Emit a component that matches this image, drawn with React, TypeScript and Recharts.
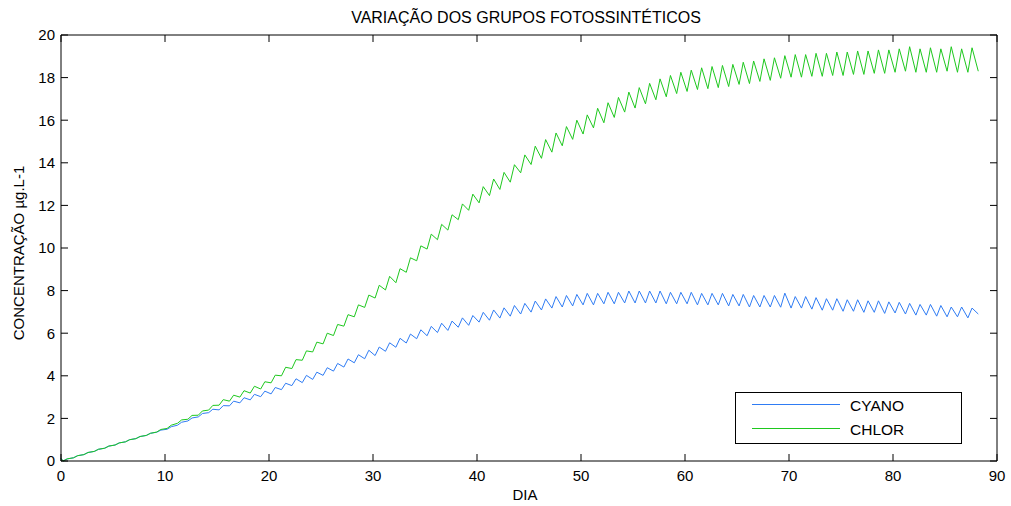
import React from 'react';
import { LineChart, Line, XAxis, YAxis, ReferenceLine } from 'recharts';

const TITLE = 'VARIAÇÃO DOS GRUPOS FOTOSSINTÉTICOS';
const X_LABEL = 'DIA';
const Y_LABEL = 'CONCENTRAÇÃO µg.L-1';
const SERIES_NAMES = ['CYANO', 'CHLOR'];
const SERIES_COLORS = ['#2f7cf4', '#1ec81e'];

const X_TICKS = [0, 10, 20, 30, 40, 50, 60, 70, 80, 90];
const Y_TICKS = [0, 2, 4, 6, 8, 10, 12, 14, 16, 18, 20];
const X_MAX = 90;
const Y_MAX = 20;

// time of the daily minimum / maximum inside each day
const TROUGH_PHASE = 0.2;
const PEAK_PHASE = 0.6;
const START_VALUES = [0.12, 0.12];

// daily minima (day 0..88) and maxima (day 0..87)
const CHLOR_LOW = [
  0.0, 0.15, 0.3, 0.45, 0.6, 0.75, 0.9, 1.05, 1.2, 1.36,
  1.53, 1.77, 1.96, 2.15, 2.39, 2.62, 2.81, 3.0, 3.19, 3.38,
  3.67, 4.0, 4.34, 4.73, 5.12, 5.5, 5.89, 6.33, 6.77, 7.21,
  7.65, 8.03, 8.37, 8.86, 9.4, 9.95, 10.39, 10.84, 11.33, 11.77,
  12.12, 12.46, 12.75, 13.09, 13.53, 13.92, 14.21, 14.5, 14.8, 15.1,
  15.35, 15.64, 15.88, 16.13, 16.38, 16.57, 16.77, 16.96, 17.1, 17.25,
  17.35, 17.44, 17.48, 17.53, 17.58, 17.68, 17.72, 17.82, 17.87, 17.97,
  18.02, 18.02, 18.06, 18.06, 18.1, 18.1, 18.15, 18.15, 18.2, 18.2,
  18.25, 18.3, 18.25, 18.25, 18.25, 18.3, 18.25, 18.25, 18.3,
];
const CHLOR_HIGH = [
  0.1, 0.25, 0.4, 0.55, 0.7, 0.85, 1.0, 1.15, 1.3, 1.48,
  1.68, 1.93, 2.14, 2.35, 2.61, 2.88, 3.09, 3.3, 3.51, 3.72,
  4.03, 4.4, 4.76, 5.17, 5.58, 6.0, 6.41, 6.87, 7.33, 7.79,
  8.25, 8.67, 9.03, 9.54, 10.1, 10.65, 11.11, 11.56, 12.07, 12.53,
  12.88, 13.24, 13.55, 13.91, 14.37, 14.78, 15.09, 15.4, 15.7, 16.0,
  16.25, 16.56, 16.82, 17.07, 17.32, 17.53, 17.73, 17.94, 18.1, 18.25,
  18.35, 18.46, 18.52, 18.57, 18.62, 18.72, 18.78, 18.88, 18.93, 19.03,
  19.08, 19.08, 19.14, 19.14, 19.2, 19.2, 19.25, 19.25, 19.3, 19.3,
  19.35, 19.45, 19.35, 19.4, 19.35, 19.45, 19.35, 19.4,
];
const CYANO_LOW = [
  0.0, 0.15, 0.3, 0.45, 0.6, 0.75, 0.9, 1.05, 1.2, 1.35,
  1.49, 1.68, 1.88, 2.07, 2.27, 2.4, 2.59, 2.73, 2.87, 3.02,
  3.15, 3.35, 3.54, 3.68, 3.83, 4.02, 4.22, 4.41, 4.61, 4.8,
  4.95, 5.15, 5.34, 5.54, 5.74, 5.88, 6.03, 6.13, 6.28, 6.37,
  6.52, 6.61, 6.71, 6.8, 6.9, 6.99, 7.09, 7.18, 7.23, 7.28,
  7.33, 7.33, 7.38, 7.38, 7.42, 7.42, 7.42, 7.42, 7.38, 7.38,
  7.38, 7.33, 7.33, 7.33, 7.28, 7.28, 7.23, 7.23, 7.23, 7.22,
  7.18, 7.18, 7.13, 7.08, 7.08, 7.03, 7.03, 6.98, 6.98, 6.93,
  6.95, 6.9, 6.85, 6.85, 6.8, 6.77, 6.77, 6.72, 6.9,
];
const CYANO_HIGH = [
  0.1, 0.25, 0.4, 0.55, 0.7, 0.85, 1.0, 1.15, 1.3, 1.45,
  1.61, 1.82, 2.02, 2.23, 2.43, 2.6, 2.81, 2.97, 3.13, 3.28,
  3.45, 3.65, 3.86, 4.02, 4.17, 4.38, 4.58, 4.79, 4.99, 5.2,
  5.35, 5.55, 5.76, 5.96, 6.16, 6.32, 6.47, 6.57, 6.72, 6.83,
  6.98, 7.09, 7.19, 7.3, 7.4, 7.51, 7.61, 7.72, 7.77, 7.82,
  7.87, 7.87, 7.92, 7.92, 7.98, 7.98, 7.98, 7.98, 7.92, 7.92,
  7.92, 7.87, 7.87, 7.87, 7.82, 7.82, 7.77, 7.77, 7.77, 7.88,
  7.72, 7.72, 7.67, 7.62, 7.62, 7.57, 7.57, 7.52, 7.52, 7.47,
  7.45, 7.4, 7.35, 7.35, 7.3, 7.23, 7.23, 7.18,
];

type Row = { day: number; cyano: number; chlor: number };
const DATA: Row[] = [{ day: 0, cyano: START_VALUES[0], chlor: START_VALUES[1] }];
CHLOR_LOW.forEach((v, d) => {
  DATA.push({ day: d + TROUGH_PHASE, cyano: CYANO_LOW[d], chlor: v });
  if (d < CHLOR_HIGH.length) {
    DATA.push({ day: d + PEAK_PHASE, cyano: CYANO_HIGH[d], chlor: CHLOR_HIGH[d] });
  }
});

const FONT = '"Liberation Sans", Arial, Helvetica, sans-serif';
const W = 1011;
const H = 506;
const MARGIN = { top: 35, right: 14, bottom: 0, left: 0 };
const X_AXIS_H = 45;
const Y_AXIS_W = 61;
const PLOT_TOP = MARGIN.top;
const PLOT_RIGHT = W - MARGIN.right;
const TICK_LEN = 7;
const BOTTOM_MARGIN = 9;
const LEFT_MARGIN = 6;

// bottom axis tick: label + inward tick on the bottom edge + matching tick on the top edge
const BottomTick = (props: any) => {
  const { x, y, payload } = props;
  const axisY = y - BOTTOM_MARGIN;
  return (
    <g>
      <line x1={x} x2={x} y1={axisY} y2={axisY - TICK_LEN} stroke="#000" strokeWidth={1} />
      <line x1={x} x2={x} y1={PLOT_TOP} y2={PLOT_TOP + TICK_LEN} stroke="#000" strokeWidth={1} />
      <text x={x} y={y} dy="0.71em" textAnchor="middle" fontSize={15} fontFamily={FONT} fill="#000">{payload.value}</text>
    </g>
  );
};
// left axis tick: label + inward tick on the left edge + matching tick on the right edge
const LeftTick = (props: any) => {
  const { x, y, payload } = props;
  const axisX = x + LEFT_MARGIN;
  return (
    <g>
      <line x1={axisX} x2={axisX + TICK_LEN} y1={y} y2={y} stroke="#000" strokeWidth={1} />
      <line x1={PLOT_RIGHT} x2={PLOT_RIGHT - TICK_LEN} y1={y} y2={y} stroke="#000" strokeWidth={1} />
      <text x={x} y={y} dy="0.355em" textAnchor="end" fontSize={15} fontFamily={FONT} fill="#000">{payload.value}</text>
    </g>
  );
};

export default function App() {
  return (
    <div style={{ position: 'absolute', left: 0, top: 0, width: W, height: H, background: '#fff', fontFamily: FONT }}>
      <LineChart width={W} height={H} data={DATA} margin={MARGIN}>
        <XAxis
          dataKey="day"
          type="number"
          domain={[0, X_MAX]}
          ticks={X_TICKS}
          interval={0}
          height={X_AXIS_H}
          tickSize={0}
          tickMargin={BOTTOM_MARGIN}
          tickLine={false}
          tick={<BottomTick />}
          stroke="#000"
        />
        <YAxis
          type="number"
          domain={[0, Y_MAX]}
          ticks={Y_TICKS}
          interval={0}
          width={Y_AXIS_W}
          tickSize={0}
          tickMargin={LEFT_MARGIN}
          tickLine={false}
          tick={<LeftTick />}
          stroke="#000"
        />
        <ReferenceLine y={Y_MAX} stroke="#000" strokeWidth={1} />
        <ReferenceLine x={X_MAX} stroke="#000" strokeWidth={1} />
        <Line type="linear" dataKey="cyano" name={SERIES_NAMES[0]} stroke={SERIES_COLORS[0]} strokeWidth={1} dot={false} isAnimationActive={false} />
        <Line type="linear" dataKey="chlor" name={SERIES_NAMES[1]} stroke={SERIES_COLORS[1]} strokeWidth={1} dot={false} isAnimationActive={false} />
      </LineChart>
      <svg width={W} height={H} style={{ position: 'absolute', left: 0, top: 0, pointerEvents: 'none' }}>
        <text x={526} y={23} textAnchor="middle" fontSize={16} fontFamily={FONT} fill="#000">{TITLE}</text>
        <text x={525} y={500} textAnchor="middle" fontSize={15} fontFamily={FONT} fill="#000">{X_LABEL}</text>
        <text x={0} y={0} transform="translate(24,253) rotate(-90)" textAnchor="middle" fontSize={15} fontFamily={FONT} fill="#000">{Y_LABEL}</text>
        <rect x={735.5} y={392.5} width={226} height={51} fill="#fff" stroke="#000" strokeWidth={1} />
        {SERIES_NAMES.map((n, i) => (
          <g key={n}>
            <line x1={752} x2={840} y1={404.5 + i * 24} y2={404.5 + i * 24} stroke={SERIES_COLORS[i]} strokeWidth={1} />
            <text x={850} y={411 + i * 24} fontSize={15.5} fontFamily={FONT} fill="#000">{n}</text>
          </g>
        ))}
      </svg>
    </div>
  );
}
